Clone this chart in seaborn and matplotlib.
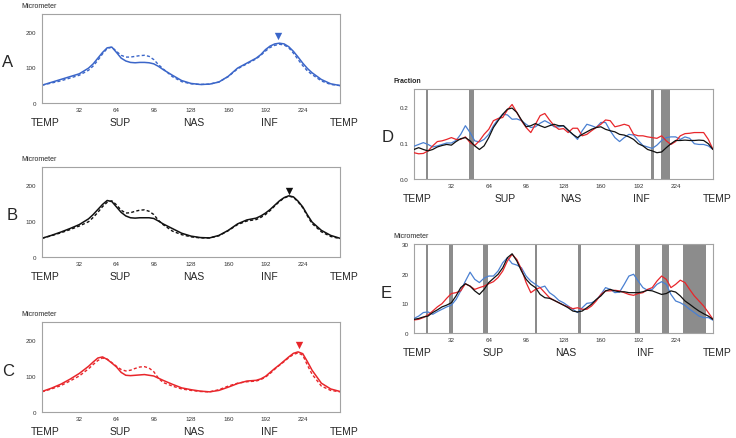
import matplotlib
matplotlib.use("Agg")
import matplotlib.pyplot as plt
import matplotlib.transforms as mtransforms
import seaborn as sns

# ---- data: left panels (thickness profiles, denser around the humps) ----
angle_lr = [0, 8, 16, 24, 32, 40,
            44, 48, 52, 56, 60, 64, 68, 72, 76, 80, 84, 88, 92, 96, 100, 104,
            112, 120, 128, 136, 144, 152, 160, 168, 176, 184,
            188, 192, 196, 200, 204, 208, 212, 216, 220, 224, 228, 232,
            240, 248, 256]
angle4 = list(range(0, 257, 4))

a_solid = [50, 58, 66, 74, 82, 98,
           110, 126, 142, 155, 157, 142, 126, 118, 114, 113, 114, 114, 113, 110, 103, 94,
           78, 63, 55, 52, 53, 59, 75, 98, 112, 126,
           136, 150, 160, 166, 168, 166, 158, 145, 129, 112, 97, 85,
           66, 54, 49]
a_dash = [50, 56, 62, 70, 78, 92,
          104, 120, 138, 153, 157, 145, 134, 129, 129, 131, 133, 134, 131, 122, 108, 96,
          74, 60, 54, 52, 53, 59, 74, 96, 110, 124,
          134, 146, 156, 162, 165, 163, 155, 140, 122, 105, 90, 80,
          62, 52, 49]
b_solid = [52, 60, 69, 79, 90, 106,
           118, 132, 146, 157, 154, 139, 124, 114, 109, 108, 109, 109, 109, 107, 100, 92,
           79, 66, 58, 54, 53, 60, 74, 92, 103, 108,
           114, 122, 132, 144, 156, 165, 170, 167, 155, 139, 117, 97,
           74, 60, 52]
b_dash = [52, 59, 67, 76, 86, 98,
          110, 124, 140, 152, 156, 145, 130, 122, 123, 127, 130, 131, 127, 118, 102, 90,
          72, 62, 56, 53, 53, 59, 73, 90, 100, 104,
          110, 118, 129, 142, 154, 164, 169, 166, 153, 137, 114, 93,
          70, 57, 51]
c_solid = [57, 66, 77, 91, 107, 127,
           139, 150, 153, 146, 136, 125, 110, 102, 101, 102, 103, 104, 102, 100, 94, 88,
           77, 67, 62, 58, 56, 60, 69, 79, 86, 88,
           92, 99, 110, 121, 131, 142, 153, 163, 167, 162, 140, 116,
           80, 64, 57]
c_dash = [56, 64, 73, 86, 100, 120,
          132, 143, 150, 147, 137, 127, 118, 114, 116, 121, 125, 126, 122, 112, 94, 82,
          72, 64, 60, 57, 56, 62, 72, 80, 84, 86,
          90, 97, 107, 119, 130, 140, 151, 160, 164, 158, 130, 105,
          72, 60, 56]

peak_x = [203, 212, 221]
peak_y = [189, 184, 186]

# ---- data: right panels (every 4 units) ----
d_blue = [.091, .096, .101, .096, .089, .092, .096, .100,
          .100, .107, .124, .148, .129, .106, .103, .110,
          .124, .148, .166, .180, .178, .166, .167, .162,
          .152, .143, .145, .155, .162, .155, .145, .145,
          .148, .134, .124, .110, .134, .152, .148, .143,
          .157, .157, .134, .115, .104, .115, .124, .122,
          .107, .093, .089, .085, .094, .107, .115, .117,
          .117, .110, .117, .113, .098, .096, .096, .092,
          .082]
d_red = [.073, .070, .071, .078, .092, .104, .106, .110,
         .115, .110, .110, .117, .101, .093, .106, .124,
         .138, .162, .168, .171, .192, .207, .185, .162,
         .143, .129, .152, .176, .182, .164, .148, .138,
         .140, .129, .141, .141, .120, .124, .134, .143,
         .152, .164, .162, .145, .148, .152, .148, .124,
         .120, .120, .117, .115, .113, .120, .106, .096,
         .104, .120, .126, .127, .129, .129, .129, .110,
         .082]
d_black = [.082, .087, .082, .078, .082, .089, .093, .096,
           .094, .104, .112, .115, .106, .092, .082, .092,
           .115, .143, .162, .180, .194, .197, .185, .164,
           .145, .148, .154, .148, .143, .148, .152, .148,
           .148, .136, .124, .115, .124, .131, .138, .143,
           .145, .138, .134, .131, .124, .122, .117, .110,
           .098, .092, .082, .078, .073, .075, .087, .098,
           .107, .107, .108, .107, .107, .108, .107, .098,
           .082]
e_blue = [4.9, 5.7, 6.9, 7.1, 6.3, 7.2, 8.0, 8.8,
          9.4, 11.3, 14.2, 17.5, 20.5, 18.1, 17.0, 18.5,
          19.2, 19.2, 20.9, 23.7, 25.4, 23.4, 22.9, 22.0,
          19.2, 17.5, 16.4, 15.3, 15.8, 13.6, 12.5, 11.0,
          10.2, 9.1, 8.0, 6.9, 8.5, 10.0, 10.2, 11.0,
          13.0, 15.3, 14.7, 13.6, 13.8, 16.4, 19.2, 19.8,
          17.5, 15.3, 14.4, 14.7, 16.4, 17.3, 16.4, 13.0,
          10.8, 10.2, 9.3, 8.0, 6.9, 5.7, 5.2, 5.2,
          4.3]
e_red = [4.4, 4.6, 5.2, 6.1, 7.4, 8.8, 9.9, 11.7,
         13.3, 13.6, 14.2, 16.6, 15.8, 14.7, 15.3, 15.8,
         16.6, 17.3, 18.7, 20.9, 24.3, 26.5, 24.8, 21.5,
         17.0, 13.6, 14.7, 15.3, 13.6, 11.9, 11.0, 10.2,
         9.4, 8.8, 8.2, 8.5, 8.0, 8.0, 9.1, 10.8,
         13.0, 14.2, 14.2, 14.4, 14.2, 13.6, 13.0, 12.7,
         13.3, 13.6, 14.7, 15.3, 17.5, 19.2, 18.1, 15.3,
         16.4, 17.8, 17.0, 14.7, 12.5, 10.8, 9.1, 6.9,
         4.6]
e_black = [4.6, 4.9, 5.4, 5.7, 6.9, 7.8, 8.8, 9.4,
           10.2, 12.5, 15.3, 16.6, 15.8, 14.2, 13.0, 14.7,
           17.0, 18.4, 19.8, 22.0, 25.4, 26.7, 24.3, 20.9,
           18.1, 16.4, 15.3, 13.0, 11.9, 11.7, 11.0, 10.2,
           9.4, 8.5, 7.4, 7.1, 7.4, 8.5, 9.7, 11.3,
           12.5, 14.2, 14.7, 14.2, 13.9, 13.9, 13.6, 13.6,
           13.6, 13.9, 14.4, 14.2, 13.6, 13.0, 13.3, 14.2,
           13.8, 12.5, 10.8, 9.7, 8.5, 7.4, 6.5, 5.7,
           4.6]

# significant sectors (gray bands)
d_bands = [(10.3, 12.4), (47.1, 51.4), (202.9, 205.7), (211.4, 219.4)]
e_bands = [(10.3, 12.4), (30.0, 33.5), (59.1, 63.7), (103.4, 105.0),
           (140.0, 143.0), (189.4, 193.7), (212.3, 217.9), (229.9, 249.9)]

xticks = [32, 64, 96, 128, 160, 192, 224]
regions = ["TEMP", "SUP", "NAS", "INF", "TEMP"]

BLUE = "#3b66c9"
BLUE2 = "#4a80d2"
RED = "#e8262b"
BLACK = "#111111"
GRAY_BAND = "#8c8c8c"
SPINE = "#a3a3a3"

sns.set_style("white")
plt.rcParams["font.family"] = ["Liberation Sans", "DejaVu Sans"]
plt.rcParams["lines.solid_joinstyle"] = "round"
plt.rcParams["lines.dash_joinstyle"] = "round"

W, H = 736, 439
fig = plt.figure(figsize=(W / 100, H / 100), dpi=100)


def make_ax(left, top, right, bottom):
    return fig.add_axes([left / W, 1 - bottom / H, (right - left) / W, (bottom - top) / H])


def style_ax(ax, ylim, yticks, ylabels, unit, unit_bold, region_x):
    ax.set_xlim(0, 256)
    ax.set_ylim(*ylim)
    ax.set_xticks(xticks)
    ax.set_xticklabels([str(t) for t in xticks])
    ax.set_yticks(yticks)
    ax.set_yticklabels(ylabels)
    ax.tick_params(axis="both", labelsize=4.5, colors="#333333", length=2.5,
                   width=0.6, pad=1.5, direction="out")
    ax.tick_params(axis="x", length=1.5)
    for s in ax.spines.values():
        s.set_color(SPINE)
        s.set_linewidth(0.8)
    ax.set_xlabel("")
    ax.set_ylabel("")
    trans = mtransforms.blended_transform_factory(ax.transData, ax.transAxes)
    for name, xx in zip(regions, region_x):
        ax.text(xx, -0.21, name, transform=trans, ha="center", va="center",
                fontsize=7.5, clip_on=False)
    ax.text(-0.07, 1.09, unit, transform=ax.transAxes, ha="left", va="center",
            fontsize=5, fontweight="bold" if unit_bold else "normal")


def left_panel(top, bottom, solid, dash, color, px, py, letter, letter_x):
    ax = make_ax(42, top, 340, bottom)
    sns.lineplot(x=angle_lr, y=dash, ax=ax, color=color, linewidth=1.0,
                 linestyle=(0, (2.2, 1.6)), estimator=None)
    sns.lineplot(x=angle_lr, y=solid, ax=ax, color=color, linewidth=1.1,
                 estimator=None)
    ax.scatter([px], [py], marker="v", s=28, color=color, zorder=5, linewidths=0)
    style_ax(ax, (0, 250), [0, 100, 200], ["0", "100", "200"], "Micrometer", False,
             [3, 67, 130, 195, 260])
    fig.text(letter_x / W, 1 - ((top + bottom) / 2 + 3) / H, letter,
             fontsize=12, ha="center", va="center", fontweight="light")
    return ax


left_panel(15, 104, a_solid, a_dash, BLUE, peak_x[0], peak_y[0], "A", 8)
left_panel(168, 258, b_solid, b_dash, BLACK, peak_x[1], peak_y[1], "B", 12)
left_panel(323, 413, c_solid, c_dash, RED, peak_x[2], peak_y[2], "C", 8)


def right_panel(top, bottom, blue, red, black, bands, ylim, yticks, ylabels,
                unit, bold, region_x, letter, lx, ly):
    ax = make_ax(414, top, 713, bottom)
    for a, b in bands:
        ax.axvspan(a, b, color=GRAY_BAND, lw=0, zorder=1)
    sns.lineplot(x=angle4, y=blue, ax=ax, color=BLUE2, linewidth=0.9, estimator=None, zorder=3)
    sns.lineplot(x=angle4, y=red, ax=ax, color=RED, linewidth=0.9, estimator=None, zorder=3)
    sns.lineplot(x=angle4, y=black, ax=ax, color=BLACK, linewidth=0.9, estimator=None, zorder=4)
    style_ax(ax, ylim, yticks, ylabels, unit, bold, region_x)
    fig.text(lx / W, 1 - ly / H, letter, fontsize=12, ha="center", va="center")
    return ax


right_panel(90, 180, d_blue, d_red, d_black, d_bands, (0, 0.25), [0, 0.1, 0.2],
            ["0.0", "0.1", "0.2"], "Fraction", True, [3, 78, 134, 195, 260], "D", 388, 137)
right_panel(245, 334, e_blue, e_red, e_black, e_bands, (0, 30), [0, 10, 20, 30],
            ["0", "10", "20", "30"], "Micrometer", False, [3, 68, 130, 198, 260], "E", 386, 293)

fig.savefig("out.png", dpi=100)
